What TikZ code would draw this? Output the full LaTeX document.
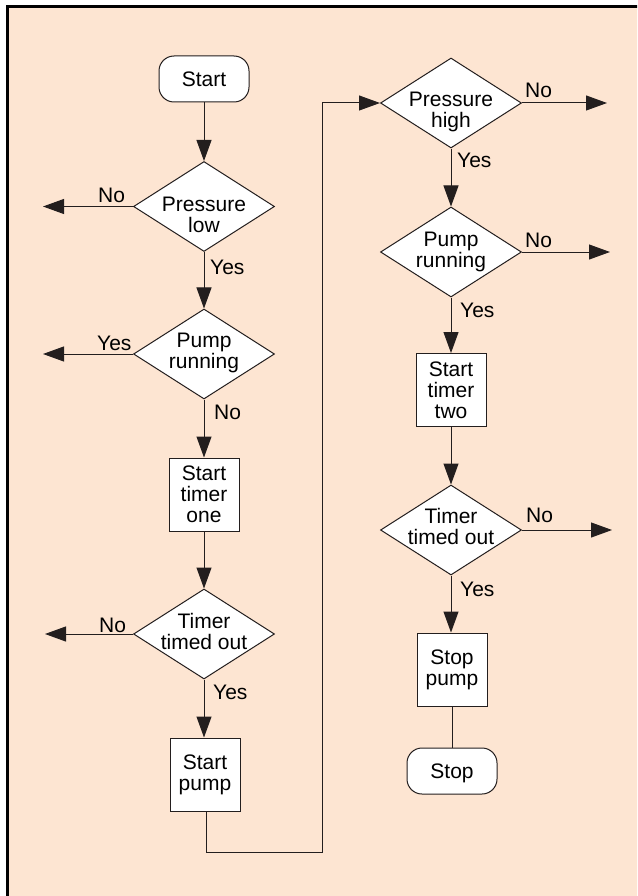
\documentclass[tikz,border=0pt]{standalone}
\usepackage{fontspec}
\setmainfont{Liberation Sans}
\usetikzlibrary{shapes.geometric,arrows.meta}
\definecolor{peach}{RGB}{253,229,210}
\definecolor{ink}{RGB}{35,30,30}
\begin{document}
\begin{tikzpicture}[x=1pt,y=-1pt,
  every node/.style={font=\fontsize{21pt}{21pt}\selectfont, text=black},
  term/.style={draw=ink, line width=1pt, fill=white, rounded corners=15pt, minimum width=90pt, minimum height=46pt, inner sep=0pt, text depth=0pt},
  proc/.style={draw=ink, line width=1pt, fill=white, minimum width=70pt, minimum height=73pt, inner sep=0pt, align=center},
  dec/.style={diamond, draw=ink, line width=1pt, fill=white, minimum width=141pt, minimum height=90pt, inner sep=0pt},
  dtext/.style={inner sep=0pt, align=center, anchor=north},
  flow/.style={draw=ink, line width=1pt, -{Triangle[length=21pt,width=15pt]}},
  link/.style={draw=ink, line width=1pt},
  lblb/.style={inner sep=0pt, anchor=base west},
  lbln/.style={inner sep=0pt, anchor=north west},
]
\clip (0,0) rectangle (637,896);
\draw[line width=3pt, fill=peach] (7.5,6.5) rectangle (680,940);

% left column
\node[term] (start) at (204,79) {Start};
\node[dec] (d1) at (204,206.5) {};
\node[dtext] (t1) at ([yshift=9.5pt]d1.center) {Pressure\\low};
\node[dec] (d2) at (204,354) {};
\node[dtext] (t2) at ([yshift=21pt]d2.center) {Pump\\running};
\node[proc] (b1) at (204,494.5) {Start\\timer\\one};
\node[dec] (d3) at (204,634) {};
\node[dtext] (t3) at ([yshift=21pt]d3.center) {Timer\\timed out};
\node[proc] (b2) at (205,774.5) {Start\\pump};

% right column
\node[dec] (e1) at (451,103) {};
\node[dtext] (u1) at ([yshift=11pt]e1.center) {Pressure\\high};
\node[dec] (e2) at (451,252) {};
\node[dtext] (u2) at ([yshift=20pt]e2.center) {Pump\\running};
\node[proc] (c1) at (451,390) {Start\\timer\\two};
\node[dec] (e3) at (451,530) {};
\node[dtext] (u3) at ([yshift=22pt]e3.center) {Timer\\timed out};
\node[proc] (c2) at (452,669.5) {Stop\\pump};
\node[term] (stop) at (452,771) {Stop};

% outlet coordinates
\coordinate (o1) at (43,206.5);
\coordinate (o2) at (43,354);
\coordinate (o3) at (45,634);
\coordinate (q1) at (607,103);
\coordinate (q2) at (610,252);
\coordinate (q3) at (612,530);
\coordinate (r1) at (206,852);
\coordinate (r2) at (322,852);
\coordinate (r3) at (322,103);

% connectors left
\draw[flow] (start) -- (d1);
\draw[flow] (d1) -- (d2);
\draw[flow] (d2) -- (b1);
\draw[flow] (b1) -- (d3);
\draw[flow] (d3.south) -- (d3.south |- b2.north);
\draw[flow] (d1.west) -- (o1);
\draw[flow] (d2.west) -- (o2);
\draw[flow] (d3.west) -- (o3);
\draw[flow] (b2.south -| r1) -- (r1) -- (r2) -- (r3) -- (e1.west);

% connectors right
\draw[flow] (e1) -- (e2);
\draw[flow] (e2) -- (c1);
\draw[flow] (c1) -- (e3);
\draw[flow] (e3.south) -- (e3.south |- c2.north);
\draw[link] (c2) -- (stop);
\draw[flow] (e1.east) -- (q1);
\draw[flow] (e2.east) -- (q2);
\draw[flow] (e3.east) -- (q3);

% labels
\node[lblb] (l1) at (98,203) {No};
\node[lblb] (l2) at (97,350) {Yes};
\node[lblb] (l3) at (99,632) {No};
\node[lbln] (l4) at (210,260) {Yes};
\node[lbln] (l5) at (214,405) {No};
\node[lbln] (l6) at (213,685) {Yes};
\node[lblb] (m1) at (525,98) {No};
\node[lblb] (m2) at (525,247) {No};
\node[lblb] (m3) at (526,522) {No};
\node[lbln] (m4) at (457,153) {Yes};
\node[lbln] (m5) at (460,303) {Yes};
\node[lbln] (m6) at (460,582) {Yes};
\end{tikzpicture}
\end{document}
